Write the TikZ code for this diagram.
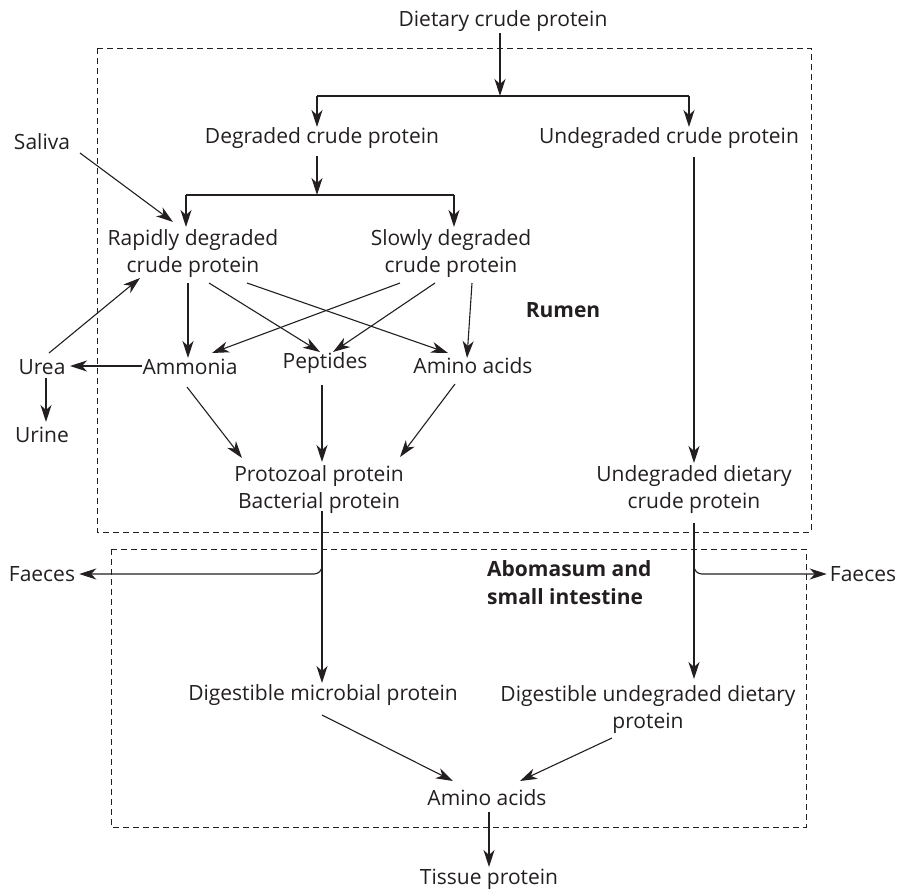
\documentclass[tikz,border=0pt]{standalone}
\usepackage{fontspec}
\setmainfont{Open Sans}
\usetikzlibrary{arrows.meta}
\definecolor{ink}{HTML}{231F20}
\tikzset{
  lbl/.style={inner sep=0pt, align=center, font=\fontsize{21}{27}\selectfont, text=ink},
  bld/.style={lbl, font=\fontsize{21}{28}\selectfont\bfseries},
  arr/.style={draw=ink, line width=1.1pt, -{Stealth[length=17pt,width=11pt,inset=5pt]}},
  ln/.style={draw=ink, line width=1.1pt},
  region/.style={draw=ink, line width=0.9pt, dash pattern=on 6pt off 4pt},
}
\begin{document}
\begin{tikzpicture}[x=1pt,y=-1pt]
\useasboundingbox (0,0) rectangle (902,889);
% regions
\draw[region] (97,48) rectangle (811,532);
\draw[region] (111,549) rectangle (806,827);
% nodes
\node[lbl] (diet) at (503,21) {Dietary crude protein};
\node[lbl] (deg) at (322,138) {Degraded crude protein};
\node[lbl] (undeg) at (669,138) {Undegraded crude protein};
\node[lbl] (saliva) at (42,142) {Saliva};
\node[lbl] (rap) at (193,254) {Rapidly degraded\\crude protein};
\node[lbl] (slow) at (451,254) {Slowly degraded\\crude protein};
\node[bld] (rumen) at (563,310) {Rumen};
\node[lbl] (urea) at (42,367) {Urea};
\node[lbl] (urine) at (42,435) {Urine};
\node[lbl] (amm) at (190,367) {Ammonia};
\node[lbl] (pep) at (325,363) {Peptides};
\node[lbl] (amino) at (473,366) {Amino acids};
\node[lbl] (proto) at (319,490) {Protozoal protein\\Bacterial protein};
\node[lbl] (udcp) at (694,490) {Undegraded dietary\\crude protein};
\node[lbl] (faecesL) at (42,574) {Faeces};
\node[lbl] (faecesR) at (863,574) {Faeces};
\node[bld, anchor=west, align=left] (abom) at (487,583) {Abomasum and\\small intestine};
\node[lbl] (dmp) at (323,695) {Digestible microbial protein};
\node[lbl] (dudp) at (648,710) {Digestible undegraded dietary\\protein};
\node[lbl] (aa2) at (487,798) {Amino acids};
\node[lbl] (tissue) at (489,879) {Tissue protein};
% junction coordinates
\coordinate (j1) at (500,96);
\coordinate (j1l) at (317,96);
\coordinate (j1r) at (689,96);
\coordinate (j2) at (317,195);
\coordinate (j2l) at (186,195);
\coordinate (j2r) at (454,195);
\coordinate (bl) at (322,552);
\coordinate (br) at (694,552);
% top split
\draw[arr] ([shift={(-3,12)}]diet.center) -- (j1);
\draw[ln] (j1l) -- (j1r);
\draw[arr] (j1l) -- ([shift={(-5,-11)}]deg.center);
\draw[arr] (j1r) -- ([shift={(20,-11)}]undeg.center);
% degraded split
\draw[arr] ([shift={(-5,18)}]deg.center) -- (j2);
\draw[ln] (j2l) -- (j2r);
\draw[arr] (j2l) -- ([shift={(-7,-27)}]rap.center);
\draw[arr] (j2r) -- ([shift={(3,-27)}]slow.center);
% saliva and urea
\draw[arr] ([shift={(38,11)}]saliva.center) -- ([shift={(-20,-32)}]rap.center);
\draw[arr] ([shift={(7,-14)}]urea.center) -- ([shift={(-53,24)}]rap.center);
\draw[arr] ([shift={(-48,-1)}]amm.center) -- ([shift={(28,-1)}]urea.center);
\draw[arr] ([shift={(4,11)}]urea.center) -- ([shift={(4,-13)}]urine.center);
% rumen degradation
\draw[arr] ([shift={(-5,29)}]rap.center) -- ([shift={(-2,-9)}]amm.center);
\draw[arr] ([shift={(16,29)}]rap.center) -- ([shift={(-5,-11)}]pep.center);
\draw[arr] ([shift={(54,29)}]rap.center) -- ([shift={(-25,-13)}]amino.center);
\draw[arr] ([shift={(-51,29)}]slow.center) -- ([shift={(22,-14)}]amm.center);
\draw[arr] ([shift={(-16,29)}]slow.center) -- ([shift={(8,-11)}]pep.center);
\draw[arr] ([shift={(21,29)}]slow.center) -- ([shift={(-6,-8)}]amino.center);
% to microbial protein
\draw[arr] ([shift={(-3,20)}]amm.center) -- ([shift={(-77,-32)}]proto.center);
\draw[arr] ([shift={(-3,22)}]pep.center) -- ([shift={(3,-28)}]proto.center);
\draw[arr] ([shift={(-18,18)}]amino.center) -- ([shift={(81,-33)}]proto.center);
% undegraded
\draw[arr] ([shift={(25,19)}]undeg.center) -- ([shift={(0,-27)}]udcp.center);
% to intestine
\draw[arr] ([shift={(3,21)}]proto.center) -- ([shift={(-1,-12)}]dmp.center);
\draw[arr, rounded corners=8pt] (bl) |- ([shift={(4,0)}]faecesL.east);
\draw[arr] ([shift={(0,33)}]udcp.center) -- ([shift={(46,-31)}]dudp.center);
\draw[arr, rounded corners=8pt] (br) |- ([shift={(-3,0)}]faecesR.west);
% to amino acids
\draw[arr] ([shift={(-1,20)}]dmp.center) -- ([shift={(-34,-17)}]aa2.center);
\draw[arr] ([shift={(-36,28)}]dudp.center) -- ([shift={(33,-17)}]aa2.center);
\draw[arr] ([shift={(2,14)}]aa2.center) -- ([shift={(0,-12)}]tissue.center);
\end{tikzpicture}
\end{document}
